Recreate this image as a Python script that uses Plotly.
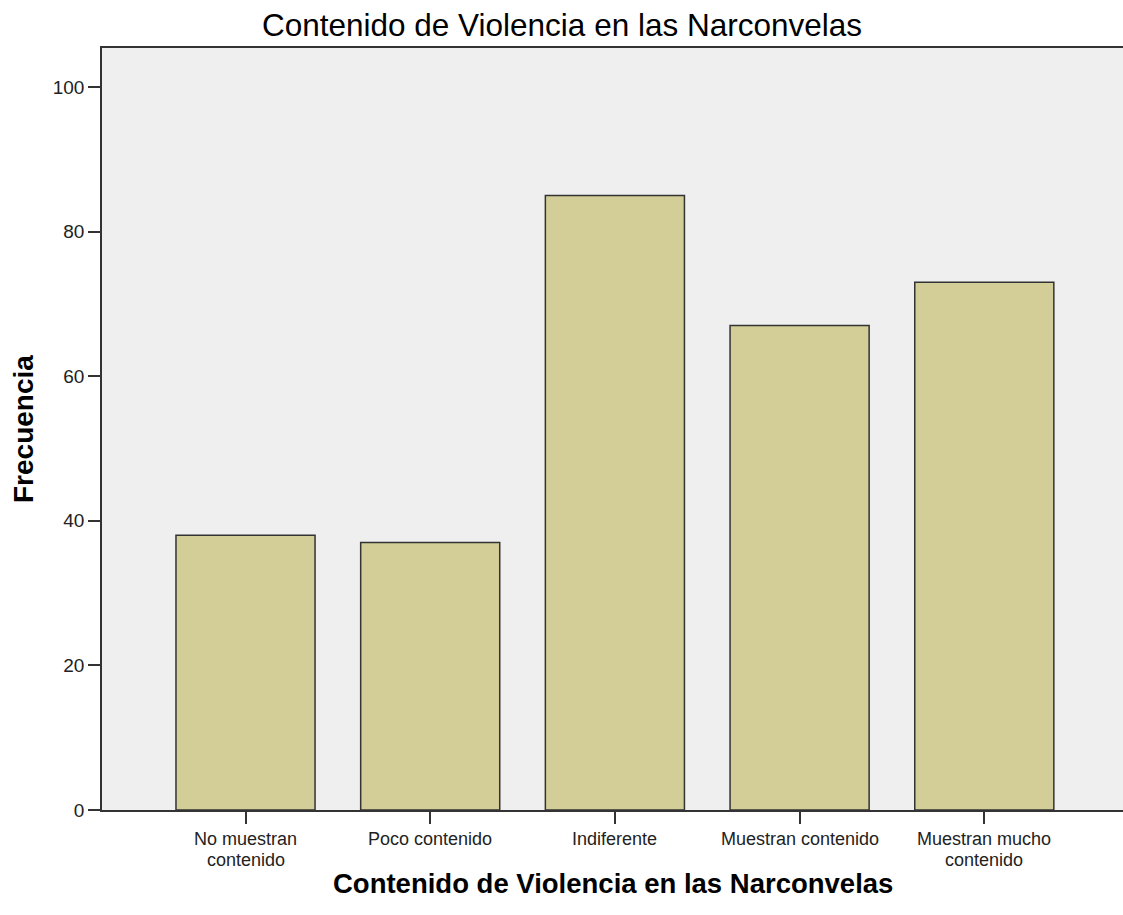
import plotly.graph_objects as go

# categorias: cada linea de la etiqueta separada por "\n"
categorias = ["No muestran\ncontenido", "Poco contenido", "Indiferente",
              "Muestran contenido", "Muestran mucho\ncontenido"]
frecuencias = [38, 37, 85, 67, 73]
y_ticks = [0, 20, 40, 60, 80, 100]

titulo = "Contenido de Violencia en las Narconvelas"
titulo_y = "Frecuencia"

FONT = "Liberation Sans, Arial, sans-serif"
W, H = 1123, 915
L, T, B = 102, 48, 105

x_pos = list(range(len(categorias)))

fig = go.Figure(go.Bar(
    x=x_pos, y=frecuencias,
    width=0.753,
    marker=dict(color="#d3ce97", line=dict(color="#333333", width=1.5)),
    showlegend=False
))

fig.update_layout(
    width=W, height=H,
    margin=dict(l=L, r=0, t=T, b=B),
    paper_bgcolor="white", plot_bgcolor="#efefef",
    font=dict(family=FONT, size=19, color="#222"),
    title=dict(text=titulo, x=562 / W, xref="container", xanchor="center",
               y=1 - 25 / H, yanchor="middle",
               font=dict(size=31.5, color="black")),
    xaxis=dict(
        tickmode="array", tickvals=x_pos, showticklabels=False,
        range=[-0.777, 4.751], showgrid=False, zeroline=False,
        showline=True, linecolor="#333", linewidth=1.5, mirror=True,
        ticks="outside", ticklen=12, tickcolor="#333", tickwidth=1.5,
    ),
    yaxis=dict(
        range=[0, 105.4], tickvals=y_ticks, showgrid=False, zeroline=False,
        showline=True, linecolor="#333", linewidth=1.5,
        ticks="outside", ticklen=12, tickcolor="#333", tickwidth=1.5,
        tickfont=dict(size=19, color="#222"),
    ),
)

# etiquetas de categoria, una anotacion por linea
for xi, cat in zip(x_pos, categorias):
    for k, linea in enumerate(cat.split("\n")):
        fig.add_annotation(
            text=linea, x=xi, xref="x", y=0, yref="paper",
            yshift=-(29 + 21 * k), xanchor="center", yanchor="middle",
            showarrow=False, font=dict(size=18, color="#222")
        )

# titulo del eje x
fig.add_annotation(
    text="<b>" + titulo + "</b>", xref="paper", yref="paper",
    x=0.5, y=0, yshift=-(883 - 810), xanchor="center", yanchor="middle",
    showarrow=False, font=dict(size=27.5, color="black")
)

# titulo del eje y
fig.add_annotation(
    text="<b>" + titulo_y + "</b>", xref="paper", yref="paper",
    x=0, xshift=-(102 - 23), y=0.5, xanchor="center", yanchor="middle",
    textangle=-90, showarrow=False, font=dict(size=28, color="black")
)

fig.write_html(
    "out.html",
    config={"displayModeBar": False},
    post_script="document.body.style.margin='0';"
                "document.documentElement.style.overflow='hidden';"
)
